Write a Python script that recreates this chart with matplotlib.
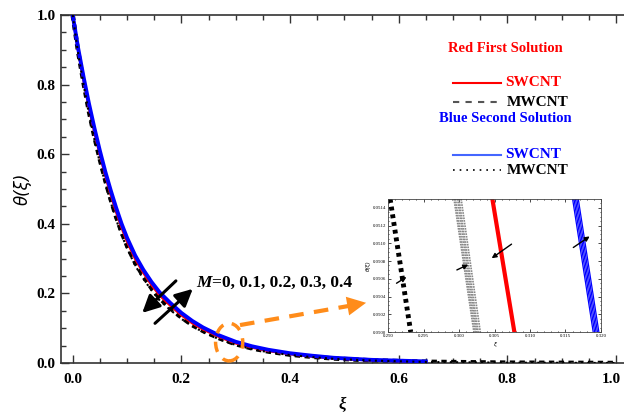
import matplotlib
matplotlib.use("Agg")
import matplotlib.pyplot as plt
from matplotlib.lines import Line2D
from matplotlib.patches import Ellipse
from matplotlib.ticker import MultipleLocator, FormatStrFormatter, FuncFormatter

# ---------------- data ----------------
xi = [0, 0.01, 0.02, 0.03, 0.04, 0.05, 0.06, 0.07, 0.08, 0.09, 0.10, 0.115, 0.13, 0.145,
      0.16, 0.18, 0.20, 0.22, 0.24, 0.27, 0.30, 0.33, 0.36, 0.40, 0.44, 0.48, 0.55, 0.65,
      0.80, 1.00]
theta_mw_first = [1, 0.895, 0.805, 0.722, 0.65, 0.585, 0.525, 0.47, 0.42, 0.376, 0.337,
                  0.288, 0.249, 0.215, 0.186, 0.157, 0.131, 0.109, 0.092, 0.071, 0.054,
                  0.042, 0.033, 0.024, 0.018, 0.013, 0.0075, 0.0035, 0.001, 0.0]
theta_mw_second = [1, 0.89, 0.80, 0.715, 0.642, 0.576, 0.516, 0.462, 0.412, 0.368, 0.33,
                   0.28, 0.242, 0.209, 0.18, 0.152, 0.127, 0.106, 0.089, 0.068, 0.052,
                   0.040, 0.031, 0.023, 0.017, 0.012, 0.007, 0.003, 0.001, 0.0]

xi_sw = [0, 0.01, 0.02, 0.03, 0.04, 0.05, 0.06, 0.07, 0.08, 0.09, 0.10, 0.115, 0.13, 0.145,
         0.16, 0.18, 0.20, 0.22, 0.24, 0.27, 0.30, 0.33, 0.36, 0.40, 0.44, 0.48, 0.55, 0.65]
theta_sw_first = [1, 0.90, 0.815, 0.735, 0.665, 0.60, 0.54, 0.485, 0.435, 0.39, 0.35,
                  0.30, 0.26, 0.225, 0.195, 0.165, 0.138, 0.115, 0.097, 0.075, 0.057,
                  0.045, 0.035, 0.026, 0.019, 0.014, 0.008, 0.004]
theta_sw_second = [1, 0.905, 0.822, 0.745, 0.675, 0.61, 0.55, 0.496, 0.446, 0.40, 0.36,
                   0.309, 0.268, 0.233, 0.203, 0.172, 0.144, 0.121, 0.102, 0.079, 0.061,
                   0.048, 0.038, 0.028, 0.021, 0.015, 0.009, 0.0045]

# inset (zoomed) data: each line given by its top and bottom end
inset_theta = [0.0515, 0.0500]
inset_mw_second = [0.2903, 0.2932]
inset_mw_first = [[0.2993, 0.3021], [0.2995, 0.3023], [0.2998, 0.3025],
                  [0.3000, 0.3027], [0.3003, 0.3030]]
inset_sw_first = [0.3047, 0.3078]
inset_sw_second = [[0.3160, 0.3189], [0.3162, 0.3191], [0.3164, 0.3193],
                   [0.3166, 0.3195], [0.3168, 0.3197]]

m_label = "=0, 0.1, 0.2, 0.3, 0.4"

RED = "#ff0000"
BLUE = "#0000ff"
ORANGE = "#ff8c1a"
SERIF = "Liberation Serif"

fig = plt.figure(figsize=(6.24, 4.16), dpi=100)
ax = fig.add_axes([61 / 624, 53 / 416, 563 / 624, 348 / 416])

ax.plot(xi, theta_mw_first, color="black", lw=3.2, ls=(0, (1.2, 1.0)), zorder=2)
ax.plot(xi_sw, theta_sw_first, color=RED, lw=2, zorder=3)
ax.plot(xi_sw, theta_sw_second, color=BLUE, lw=2.8, zorder=4)
ax.plot(xi, theta_mw_second, color="black", lw=1.5, ls=(0, (1, 2)), zorder=5)

ax.set_xlim(-0.0215, 1.0147)
ax.set_ylim(0, 1)
ax.xaxis.set_major_locator(MultipleLocator(0.2))
ax.xaxis.set_minor_locator(MultipleLocator(0.05))
ax.yaxis.set_major_locator(MultipleLocator(0.2))
ax.yaxis.set_minor_locator(MultipleLocator(0.05))
ax.xaxis.set_major_formatter(FuncFormatter(lambda v, p: "" if v > 0.99 else f"{v:.1f}"))
ax.yaxis.set_major_formatter(FormatStrFormatter("%.1f"))
ax.tick_params(which="both", direction="in", top=True, right=False, width=1, color="#333333")
ax.tick_params(which="major", length=6)
ax.tick_params(which="minor", length=3.5)
ax.tick_params(axis="x", which="major", pad=7)
ax.tick_params(axis="y", which="major", pad=4)
ax.spines["right"].set_visible(False)
for s in ["left", "bottom", "top"]:
    ax.spines[s].set_linewidth(1.2)
    ax.spines[s].set_color("#333333")
for lab in ax.get_xticklabels() + ax.get_yticklabels():
    lab.set_fontfamily(SERIF)
    lab.set_fontweight("bold")
    lab.set_fontsize(11)
# last x tick label, nudged left so that it stays inside the figure
ax.annotate("1.0", xy=(1.0, 0), xycoords=("data", "axes fraction"), xytext=(-3.5, -7),
            textcoords="offset points", ha="center", va="top", family=SERIF,
            fontweight="bold", fontsize=11, annotation_clip=False)

ax.set_ylabel("θ(ξ)", fontsize=12, fontstyle="italic", family="DejaVu Sans", labelpad=3)
ax.set_xlabel("ξ", fontsize=12, fontstyle="italic", family=SERIF, fontweight="bold", labelpad=8)

# M annotation arrows
ax.annotate("", xy=(0.128, 0.144), xytext=(0.190, 0.236),
            arrowprops=dict(arrowstyle="-|>", lw=2.2, color="black", mutation_scale=26,
                            shrinkA=0, shrinkB=0), zorder=6)
ax.annotate("", xy=(0.221, 0.213), xytext=(0.1515, 0.114),
            arrowprops=dict(arrowstyle="-|>", lw=2.2, color="black", mutation_scale=26,
                            shrinkA=0, shrinkB=0), zorder=6)
t1 = ax.text(0.227, 0.23, "M", fontsize=12.5, family=SERIF, fontweight="bold",
             fontstyle="italic", va="center", ha="left")
ax.annotate(m_label, xy=(1, 0.5), xycoords=t1, va="center", ha="left",
            fontsize=12.5, family=SERIF, fontweight="bold")

# orange zoom marker
ax.add_patch(Ellipse((0.288, 0.060), 0.05, 0.108, angle=0, fill=False, ec=ORANGE,
                     lw=2.5, ls=(0, (3, 2.5)), zorder=7, clip_on=False))
ax.plot([0.308, 0.512], [0.109, 0.165], color=ORANGE, lw=3, ls=(0, (3.5, 2.5)), zorder=7)
ax.annotate("", xy=(0.540, 0.173), xytext=(0.500, 0.162),
            arrowprops=dict(arrowstyle="-|>", lw=0, color=ORANGE, mutation_scale=34,
                            shrinkA=0, shrinkB=0), zorder=7)

# legend (manual)
fig.text(505 / 624, 1 - 49 / 416, "Red First Solution", color=RED, family=SERIF,
         fontweight="bold", fontsize=10.5, ha="center", va="center")
fig.add_artist(Line2D([453 / 624, 501 / 624], [1 - 83 / 416] * 2, color=RED, lw=1.5))
fig.text(505 / 624, 1 - 83 / 416, "SWCNT", color=RED, family=SERIF, fontweight="bold",
         fontsize=11, ha="left", va="center")
fig.add_artist(Line2D([453 / 624, 501 / 624], [1 - 102 / 416] * 2, color="#555555", lw=1.5,
                      ls=(0, (3, 3))))
fig.text(507 / 624, 1 - 102 / 416, "MWCNT", color="black", family=SERIF, fontweight="bold",
         fontsize=11, ha="left", va="center")
fig.text(505 / 624, 1 - 119 / 416, "Blue Second Solution", color=BLUE, family=SERIF,
         fontweight="bold", fontsize=10.5, ha="center", va="center")
fig.add_artist(Line2D([453 / 624, 501 / 624], [1 - 155 / 416] * 2, color="#4466ff", lw=1.5))
fig.text(505 / 624, 1 - 155 / 416, "SWCNT", color=BLUE, family=SERIF, fontweight="bold",
         fontsize=11, ha="left", va="center")
fig.add_artist(Line2D([453 / 624, 501 / 624], [1 - 170 / 416] * 2, color="black", lw=1.2,
                      ls=(0, (1, 3))))
fig.text(507 / 624, 1 - 170 / 416, "MWCNT", color="black", family=SERIF, fontweight="bold",
         fontsize=11, ha="left", va="center")

# inset
axi = fig.add_axes([388 / 624, 84 / 416, 213 / 624, 133 / 416])
axi.plot(inset_mw_second, inset_theta, color="black", lw=3.5, ls=(0, (0.8, 0.8)))
for xs in inset_mw_first:
    axi.plot(xs, inset_theta, color="#888888", lw=1.2, ls=(0, (1, 0.6)))
axi.plot(inset_sw_first, inset_theta, color=RED, lw=3)
for xs in inset_sw_second:
    axi.plot(xs, inset_theta, color=BLUE, lw=0.9)
axi.set_xlim(0.290, 0.320)
axi.set_ylim(0.0500, 0.0515)
axi.xaxis.set_major_locator(MultipleLocator(0.005))
axi.yaxis.set_major_locator(MultipleLocator(0.0002))
axi.xaxis.set_major_formatter(FormatStrFormatter("%.3f"))
axi.yaxis.set_major_formatter(FormatStrFormatter("%.4f"))
axi.xaxis.set_minor_locator(MultipleLocator(0.001))
axi.yaxis.set_minor_locator(MultipleLocator(0.00005))
axi.tick_params(which="both", direction="in", labelsize=3.5, length=2, width=0.5, pad=1.5,
                top=True, right=True)
axi.tick_params(which="minor", length=1)
for lab in axi.get_xticklabels() + axi.get_yticklabels():
    lab.set_fontfamily(SERIF)
for s in axi.spines.values():
    s.set_linewidth(0.6)
    s.set_color("#444444")
axi.set_ylabel("θ(ξ)", fontsize=4, fontstyle="italic", labelpad=1)
axi.set_xlabel("ξ", fontsize=4, fontstyle="italic", labelpad=3)
arrow_kw = dict(arrowstyle="-|>", lw=1, color="black", mutation_scale=7, shrinkA=0, shrinkB=0)
axi.annotate("", xy=(0.2926, 0.05062), xytext=(0.2912, 0.05055), arrowprops=arrow_kw)
axi.annotate("", xy=(0.3013, 0.05076), xytext=(0.2997, 0.05070), arrowprops=arrow_kw)
axi.annotate("", xy=(0.3046, 0.050832), xytext=(0.3074, 0.050991), arrowprops=arrow_kw)
axi.annotate("", xy=(0.3184, 0.051078), xytext=(0.3161, 0.050953), arrowprops=arrow_kw)

fig.savefig("out.png", dpi=100)
